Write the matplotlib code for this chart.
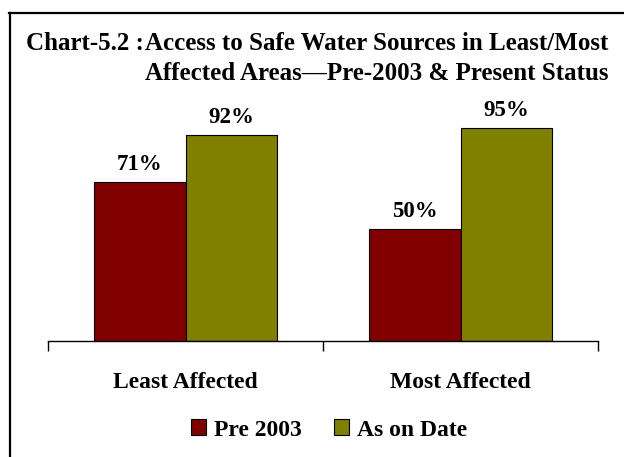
import matplotlib
matplotlib.use("Agg")
import matplotlib.pyplot as plt
from matplotlib.lines import Line2D
from matplotlib.patches import Patch
import numpy as np

categories = ["Least Affected", "Most Affected"]
series_names = ["Pre 2003", "As on Date"]
pre_2003 = [71, 50]
as_on_date = [92, 95]
colors = ["#800000", "#808000"]

plt.rcParams["font.family"] = ["Liberation Serif", "DejaVu Serif"]
plt.rcParams["font.weight"] = "bold"

W, H = 624, 457
fig = plt.figure(figsize=(W / 100, H / 100), dpi=100)

# Outer frame (top and left edges)
fig.add_artist(Line2D([9 / W, 1.0], [1 - 12.5 / H, 1 - 12.5 / H], color="black", lw=1.6,
                      transform=fig.transFigure))
fig.add_artist(Line2D([10 / W, 10 / W], [1 - 12.5 / H, 0], color="black", lw=1.6,
                      transform=fig.transFigure))

title_kw = dict(fontsize=18, fontweight="bold", va="baseline")
fig.text(26 / W, 1 - 50 / H, "Chart-5.2 :", ha="left", **title_kw)
fig.text(145 / W, 1 - 50 / H, "Access to Safe Water Sources in Least/Most", ha="left", **title_kw)
fig.text(145 / W, 1 - 80 / H, "Affected Areas\u2014Pre-2003 & Present Status", ha="left", **title_kw)

ax = fig.add_axes([48 / W, 1 - 341 / H, 550 / W, 224 / H])
x = np.arange(len(categories))
w = 0.333
b1 = ax.bar(x - w / 2, pre_2003, w, color=colors[0], edgecolor="black", linewidth=0.8)
b2 = ax.bar(x + w / 2, as_on_date, w, color=colors[1], edgecolor="black", linewidth=0.8)
for bars, vals in ((b1, pre_2003), (b2, as_on_date)):
    for r, v in zip(bars, vals):
        ax.text(r.get_x() + r.get_width() / 2, v + 5.5, f"{v}%", ha="center", va="baseline",
                fontsize=16.5, fontweight="bold")

ax.set_xlim(-0.5, len(categories) - 0.5)
ax.set_ylim(0, 100)
for s in ("top", "right", "left"):
    ax.spines[s].set_visible(False)
ax.spines["bottom"].set_linewidth(1.0)
ax.set_yticks([])
ax.set_xticks(np.arange(len(categories) + 1) - 0.5)
ax.set_xticklabels([])
ax.tick_params(axis="x", direction="out", length=7, width=1.0)
for i, c in enumerate(categories):
    ax.text(i, -21, c, ha="center", va="baseline", fontsize=17, fontweight="bold",
            clip_on=False)

handles = [Patch(facecolor=colors[0], edgecolor="black", linewidth=0.8),
           Patch(facecolor=colors[1], edgecolor="black", linewidth=0.8)]
fig.legend(handles, series_names, loc="center", bbox_to_anchor=(329 / W, 1 - 430 / H),
           ncol=2, frameon=False, prop={"size": 17, "weight": "bold"},
           handlelength=0.64, handleheight=0.64, handletextpad=0.3, columnspacing=1.4,
           borderpad=0, borderaxespad=0)

fig.savefig("out.png", dpi=100, facecolor="white")
